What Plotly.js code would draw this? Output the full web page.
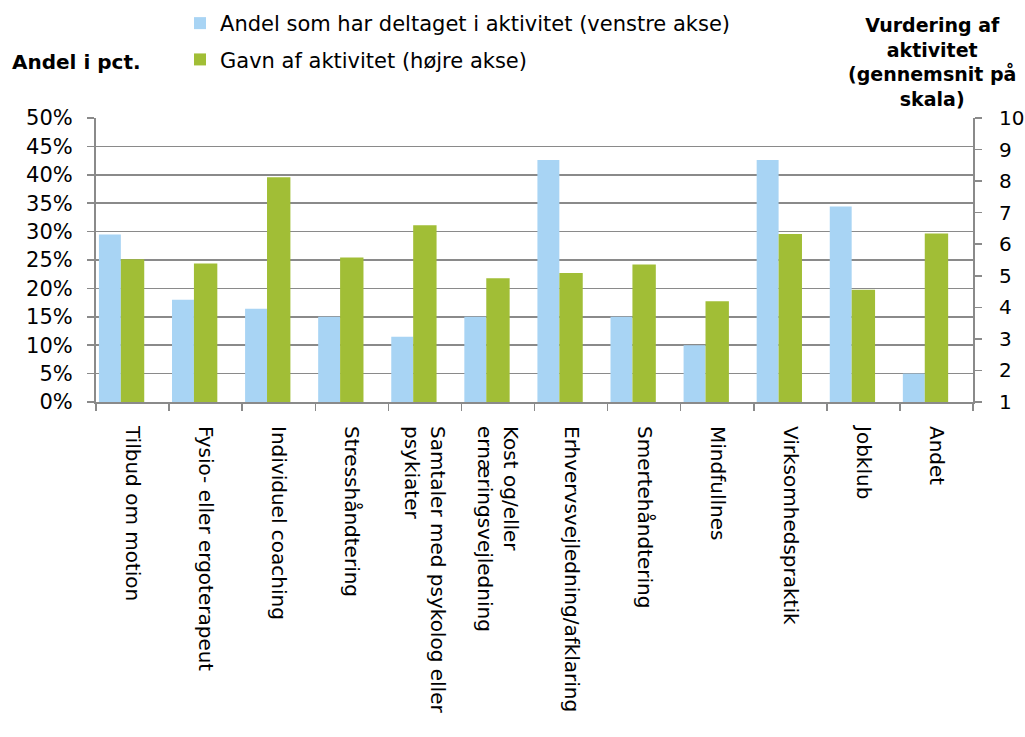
<!DOCTYPE html>
<html>
<head>
<meta charset="utf-8">
<script src="https://cdn.plot.ly/plotly-3.0.1.min.js"></script>
<style>html,body{margin:0;padding:0;background:#fff;}#chart{width:1025px;height:737px;}</style>
</head>
<body>
<div id="chart"></div>
<script>
const categories = [
  "Tilbud om motion",
  "Fysio- eller ergoterapeut",
  "Individuel coaching",
  "Stresshåndtering",
  "Samtaler med psykolog eller<br>psykiater",
  "Kost og/eller<br>ernæringsvejledning",
  "Erhvervsvejledning/afklaring",
  "Smertehåndtering",
  "Mindfullnes",
  "Virksomhedspraktik",
  "Jobklub",
  "Andet"
];
const andelDeltaget = [29.5, 18.0, 16.4, 15.0, 11.5, 15.0, 42.6, 15.0, 10.0, 42.6, 34.4, 5.0];
const gavn = [5.52, 5.39, 8.12, 5.58, 6.60, 4.92, 5.09, 5.36, 4.19, 6.32, 4.56, 6.34];
const leftTicks = [0,5,10,15,20,25,30,35,40,45,50];
const rightTicks = [1,2,3,4,5,6,7,8,9,10];

const FONT = "DejaVu Sans, Verdana, sans-serif";
const GRID = "#8a8a8a";

const traces = [
  {
    type: "bar", x: categories, y: andelDeltaget, name: "Andel som har deltaget i aktivitet (venstre akse)",
    marker: {color: "#A8D4F4"}, yaxis: "y", width: 0.30, offset: -0.46, legendgroup: "a",
    hoverinfo: "x+y"
  },
  {
    type: "bar", x: categories, y: gavn.map(v => v - 1), base: 1, name: "Gavn af aktivitet (højre akse)",
    marker: {color: "#A1BE36"}, yaxis: "y2", width: 0.32, offset: -0.16, legendgroup: "b",
    hoverinfo: "x+y"
  }
];

const layout = {
  width: 1025, height: 737,
  margin: {l: 96, r: 52, t: 118, b: 335, autoexpand: false},
  paper_bgcolor: "#fff", plot_bgcolor: "#fff",
  font: {family: FONT, size: 20, color: "#000"},
  barmode: "overlay",
  showlegend: true,
  legend: {
    x: 0.0958, xanchor: "left", y: 1.405, yanchor: "top",
    font: {family: FONT, size: 21, color: "#000"},
    traceorder: "grouped", tracegroupgap: 6,
    itemwidth: 30, bgcolor: "rgba(0,0,0,0)"
  },
  xaxis: {
    type: "category", tickangle: 90, tickson: "boundaries",
    ticks: "outside", ticklen: 7, tickcolor: GRID, tickwidth: 1.5,
    showline: true, linecolor: GRID, linewidth: 2,
    showgrid: false, tickfont: {family: FONT, size: 20, color: "#000"},
    ticklabelstandoff: 18, fixedrange: true
  },
  yaxis: {
    range: [0, 50], tickvals: leftTicks, ticktext: leftTicks.map(v => v + "%"),
    ticks: "outside", ticklen: 7, tickcolor: GRID, tickwidth: 1.5,
    showline: true, linecolor: GRID, linewidth: 2,
    showgrid: true, gridcolor: GRID, gridwidth: 1.5, zeroline: false,
    tickfont: {family: FONT, size: 21, color: "#000"}, ticklabelstandoff: 10,
    fixedrange: true
  },
  yaxis2: {
    range: [1, 10], tickvals: rightTicks, overlaying: "y", side: "right",
    ticks: "outside", ticklen: 7, tickcolor: GRID, tickwidth: 1.5,
    showline: true, linecolor: GRID, linewidth: 2,
    showgrid: false, zeroline: false,
    tickfont: {family: FONT, size: 20, color: "#000"}, ticklabelstandoff: 13,
    fixedrange: true
  },
  annotations: [
    {text: "<b>Andel i pct.</b>", xref: "paper", yref: "paper", x: -0.098, y: 1.197,
     xanchor: "left", yanchor: "middle", showarrow: false, font: {family: FONT, size: 20, color: "#000"}},
    {text: "<b>Vurdering af<br>aktivitet<br>(gennemsnit på<br>skala)</b>", xref: "paper", yref: "paper",
     x: 0.953, y: 1.197, xanchor: "center", yanchor: "middle", showarrow: false, align: "center",
     font: {family: FONT, size: 19, color: "#000"}}
  ]
};

Plotly.newPlot("chart", traces, layout, {displayModeBar: false, staticPlot: true});
</script>
</body>
</html>
